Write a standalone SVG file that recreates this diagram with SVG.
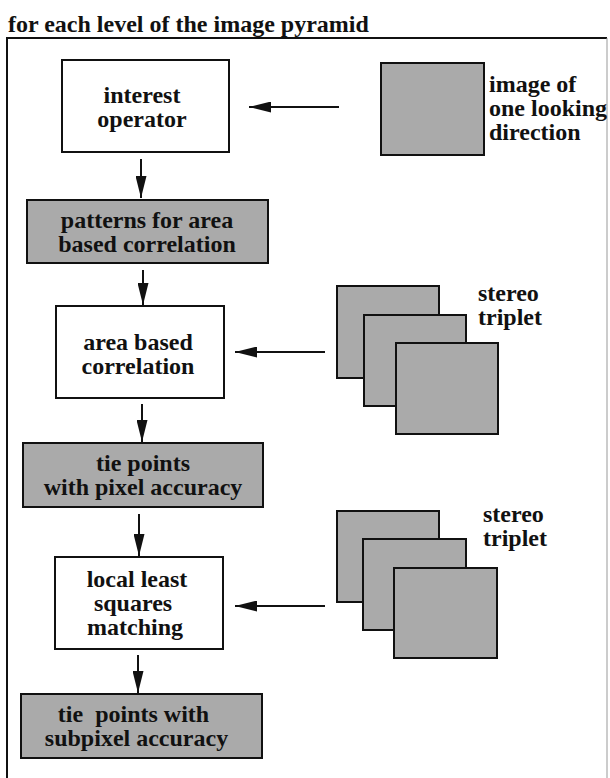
<svg xmlns="http://www.w3.org/2000/svg" width="610" height="778" viewBox="0 0 610 778">
<style>
text{font-family:"Liberation Serif","Times New Roman",serif;font-weight:bold;font-size:24px;fill:#111}
.c{text-anchor:middle}
.box{fill:#fff;stroke:#111;stroke-width:2}
.gbox{fill:#aaaaaa;stroke:#111;stroke-width:2}
.img{fill:#aaaaaa;stroke:#111;stroke-width:2}
.arr{stroke:#111;stroke-width:2;fill:none;marker-end:url(#ah)}
</style>
<defs>
<marker id="ah" viewBox="0 0 22 11" refX="22" refY="5.5" markerWidth="22" markerHeight="11" markerUnits="userSpaceOnUse" orient="auto">
<path d="M0,0 L22,5.5 L0,11 z" fill="#111"/>
</marker>
</defs>
<g id="title"><text x="8" y="32">for each level of the image pyramid</text></g>
<g id="frame">
<line x1="7" y1="38" x2="607" y2="38" stroke="#111" stroke-width="2"/>
<line x1="7" y1="37" x2="7" y2="778" stroke="#111" stroke-width="2"/>
<line x1="607" y1="38" x2="607" y2="778" stroke="#999" stroke-width="1"/>
</g>
<g id="connectors">
<line class="arr" x1="339" y1="107" x2="249" y2="107"/>
<line class="arr" x1="141" y1="159" x2="141" y2="198"/>
<line class="arr" x1="143" y1="270" x2="143" y2="305"/>
<line class="arr" x1="325" y1="352" x2="235" y2="352"/>
<line class="arr" x1="142" y1="404" x2="142" y2="442"/>
<line class="arr" x1="139" y1="514" x2="139" y2="556"/>
<line class="arr" x1="325" y1="606" x2="235" y2="606"/>
<line class="arr" x1="138" y1="655" x2="138" y2="693"/>
</g>
<g id="interest-operator">
<rect class="box" x="62" y="60" width="167" height="92"/>
<text class="c" x="142" y="103">interest</text>
<text class="c" x="142" y="127">operator</text>
</g>
<g id="image-one-direction">
<rect class="img" x="381" y="63" width="103" height="92"/>
<text x="489" y="92">image of</text>
<text x="489" y="116">one looking</text>
<text x="489" y="140">direction</text>
</g>
<g id="patterns">
<rect class="gbox" x="27" y="200" width="241" height="63"/>
<text class="c" x="147" y="228">patterns for area</text>
<text class="c" x="147" y="252">based correlation</text>
</g>
<g id="area-based-correlation">
<rect class="box" x="56" y="306" width="168" height="92"/>
<text class="c" x="138" y="350">area based</text>
<text class="c" x="138" y="374">correlation</text>
</g>
<g id="stereo-triplet-1">
<rect class="img" x="337" y="286" width="102" height="92"/>
<rect class="img" x="364" y="315" width="102" height="91"/>
<rect class="img" x="396" y="343" width="102" height="91"/>
<text x="478" y="301">stereo</text>
<text x="478" y="325">triplet</text>
</g>
<g id="tie-points-pixel">
<rect class="gbox" x="23" y="443" width="240" height="64"/>
<text class="c" x="143" y="471">tie points</text>
<text class="c" x="143" y="495">with pixel accuracy</text>
</g>
<g id="local-least-squares">
<rect class="box" x="55" y="557" width="168" height="92"/>
<text class="c" x="137" y="587">local least</text>
<text class="c" x="133" y="611">squares</text>
<text class="c" x="135" y="635">matching</text>
</g>
<g id="stereo-triplet-2">
<rect class="img" x="337" y="511" width="102" height="91"/>
<rect class="img" x="363" y="539" width="103" height="91"/>
<rect class="img" x="394" y="568" width="103" height="90"/>
<text x="483" y="522">stereo</text>
<text x="483" y="546">triplet</text>
</g>
<g id="tie-points-subpixel">
<rect class="gbox" x="21" y="694" width="241" height="64"/>
<text class="c" x="133.5" y="722" xml:space="preserve">tie  points with</text>
<text class="c" x="136.5" y="746">subpixel accuracy</text>
</g>
</svg>
